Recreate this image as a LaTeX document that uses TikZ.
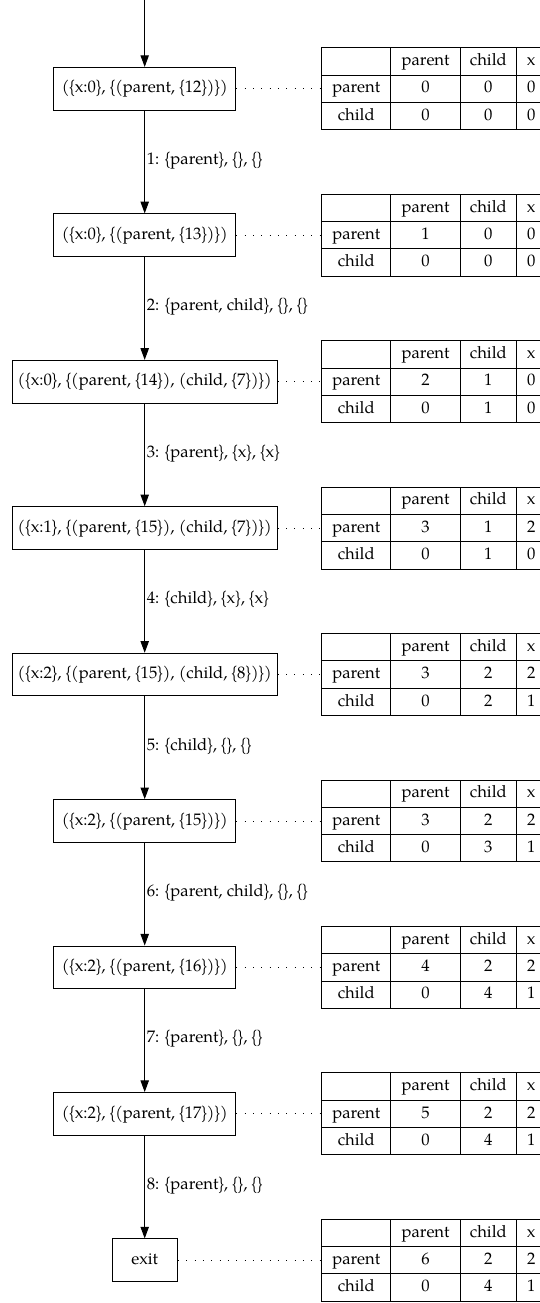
\documentclass[tikz,border=0pt]{standalone}
\usepackage{fontspec}
\setmainfont{texgyrepagella}[Extension=.otf,UprightFont=*-regular]
\usetikzlibrary{arrows.meta}

% narrow set braces
\newcommand\LB{\makebox[0.33em]{\{}}
\newcommand\RB{\makebox[0.33em]{\}}}

% one table of per-variable counters, centred on the "parent" row at height #2
\newcommand\vartable[8]{%
  \begin{scope}[shift={(0,#2)}]
    \node[cell,wa] (#1-h0) at (356.3,-27.3) {};
    \node[cell,wb] (#1-h1) at (425.6,-27.3) {parent};
    \node[cell,wc] (#1-h2) at (488.35,-27.3) {child};
    \node[cell,wd] (#1-h3) at (531.25,-27.3) {x};
    \node[cell,wa] (#1-p0) at (356.3,0) {parent};
    \node[cell,wb] (#1-p1) at (425.6,0) {#3};
    \node[cell,wc] (#1-p2) at (488.35,0) {#4};
    \node[cell,wd] (#1-p3) at (531.25,0) {#5};
    \node[cell,wa] (#1-c0) at (356.3,27.3) {child};
    \node[cell,wb] (#1-c1) at (425.6,27.3) {#6};
    \node[cell,wc] (#1-c2) at (488.35,27.3) {#7};
    \node[cell,wd] (#1-c3) at (531.25,27.3) {#8};
  \end{scope}%
}

\tikzset{
  every node/.style={font=\fontsize{10}{12}\selectfont},
  state/.style={draw, line width=0.6pt, minimum width=109.4pt, minimum height=25.6pt,
    inner xsep=3.33pt, inner ysep=0pt, text height=6.9pt, text depth=1.9pt},
  cell/.style={draw, line width=0.6pt, inner sep=0pt, minimum height=16.38pt,
    text height=6.9pt, text depth=1.9pt},
  wa/.style={minimum width=41.55pt},
  wb/.style={minimum width=41.55pt},
  wc/.style={minimum width=33.8pt},
  wd/.style={minimum width=17.7pt},
  flow/.style={-{Triangle[length=7pt,width=5pt]}, line width=0.6pt},
  flowlabel/.style={right, inner xsep=1pt, yshift=1pt},
  link/.style={line width=0.6pt, dash pattern=on 0.6pt off 4.4pt},
}

\begin{document}
\begin{tikzpicture}[x=0.6pt, y=-0.6pt]
  \useasboundingbox (0,0) rectangle (540,1303);
  \clip (0,0) rectangle (540,1303);

  % program states
  \node[state] (s0) at (144.7,88.8)   {(\LB x:0\RB, \LB(parent, \LB 12\RB)\RB)};
  \node[state] (s1) at (144.7,235.2)  {(\LB x:0\RB, \LB(parent, \LB 13\RB)\RB)};
  \node[state] (s2) at (144.7,381.7)  {(\LB x:0\RB, \LB(parent, \LB 14\RB), (child, \LB 7\RB)\RB)};
  \node[state] (s3) at (144.7,528.1)  {(\LB x:1\RB, \LB(parent, \LB 15\RB), (child, \LB 7\RB)\RB)};
  \node[state] (s4) at (144.7,674.6)  {(\LB x:2\RB, \LB(parent, \LB 15\RB), (child, \LB 8\RB)\RB)};
  \node[state] (s5) at (144.7,821.0)  {(\LB x:2\RB, \LB(parent, \LB 15\RB)\RB)};
  \node[state] (s6) at (144.7,967.4)  {(\LB x:2\RB, \LB(parent, \LB 16\RB)\RB)};
  \node[state] (s7) at (144.7,1113.9) {(\LB x:2\RB, \LB(parent, \LB 17\RB)\RB)};
  \node[state, minimum width=39.2pt] (s8) at (144.7,1260.3) {exit};

  % counter tables
  \vartable{t0}{88.8}{0}{0}{0}{0}{0}{0}
  \vartable{t1}{235.2}{1}{0}{0}{0}{0}{0}
  \vartable{t2}{381.7}{2}{1}{0}{0}{1}{0}
  \vartable{t3}{528.1}{3}{1}{2}{0}{1}{0}
  \vartable{t4}{674.6}{3}{2}{2}{0}{2}{1}
  \vartable{t5}{821.0}{3}{2}{2}{0}{3}{1}
  \vartable{t6}{967.4}{4}{2}{2}{0}{4}{1}
  \vartable{t7}{1113.9}{5}{2}{2}{0}{4}{1}
  \vartable{t8}{1260.3}{6}{2}{2}{0}{4}{1}

  % transitions
  \coordinate (entry) at (144.7,0);
  \draw[flow] (entry) -- (s0);
  \draw[flow] (s0) -- node[flowlabel] {1: \LB parent\RB, \LB\RB, \LB\RB} (s1);
  \draw[flow] (s1) -- node[flowlabel] {2: \LB parent, child\RB, \LB\RB, \LB\RB} (s2);
  \draw[flow] (s2) -- node[flowlabel] {3: \LB parent\RB, \LB x\RB, \LB x\RB} (s3);
  \draw[flow] (s3) -- node[flowlabel] {4: \LB child\RB, \LB x\RB, \LB x\RB} (s4);
  \draw[flow] (s4) -- node[flowlabel] {5: \LB child\RB, \LB\RB, \LB\RB} (s5);
  \draw[flow] (s5) -- node[flowlabel] {6: \LB parent, child\RB, \LB\RB, \LB\RB} (s6);
  \draw[flow] (s6) -- node[flowlabel] {7: \LB parent\RB, \LB\RB, \LB\RB} (s7);
  \draw[flow] (s7) -- node[flowlabel] {8: \LB parent\RB, \LB\RB, \LB\RB} (s8);

  % states linked to their tables
  \foreach \k in {0,...,8}
    \draw[link] (s\k.east) -- (t\k-p0.west);
\end{tikzpicture}
\end{document}
